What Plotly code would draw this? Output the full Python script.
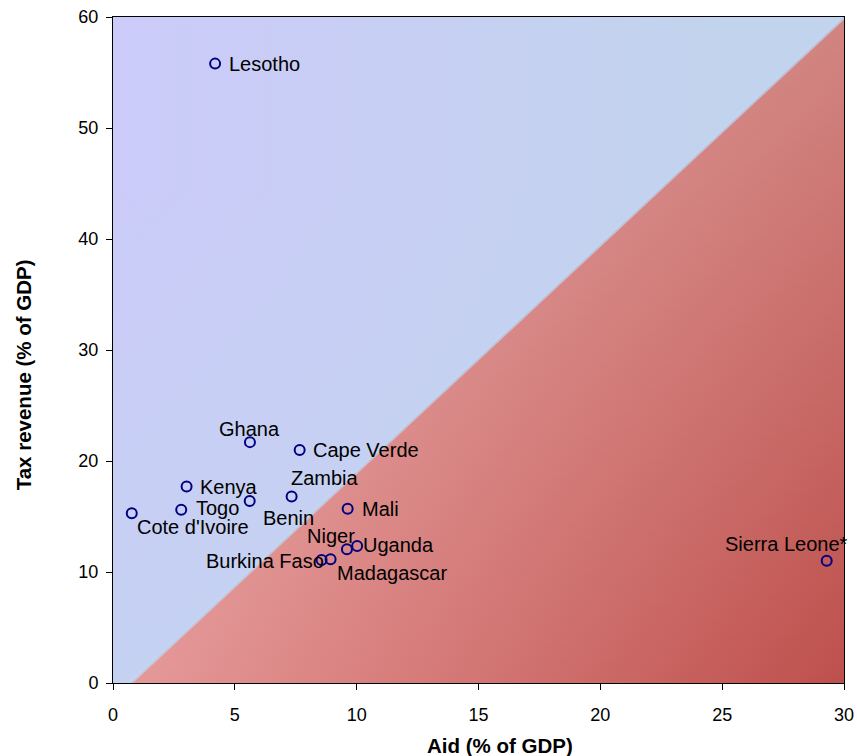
import plotly.graph_objects as go

# data
countries = ["Lesotho", "Ghana", "Cape Verde", "Kenya", "Zambia", "Benin", "Togo",
             "Cote d'Ivoire", "Mali", "Niger", "Uganda", "Burkina Faso",
             "Madagascar", "Sierra Leone*"]
aid = [4.19, 5.62, 7.66, 3.02, 7.33, 5.61, 2.80, 0.77, 9.63, 9.60, 10.02, 8.56, 8.93, 29.29]
tax = [55.8, 21.7, 21.0, 17.7, 16.8, 16.4, 15.6, 15.3, 15.7, 12.05, 12.35, 11.08, 11.14, 11.02]

x_ticks = [0, 5, 10, 15, 20, 25, 30]
y_ticks = [0, 10, 20, 30, 40, 50, 60]

x_title = "Aid (% of GDP)"
y_title = "Tax revenue (% of GDP)"

# background split: tax revenue above / below the aid line
split_x = [0.7, 30]
split_y = [0, 60]

FONT = "Liberation Sans, Arial, sans-serif"

# label placement: (xanchor, xshift, yshift) in pixels
label_pos = {
    "Lesotho": ("left", 12, 0),
    "Ghana": ("center", 0, 13),
    "Cape Verde": ("left", 11, 0),
    "Kenya": ("left", 11, 0),
    "Zambia": ("left", -3, 19),
    "Benin": ("left", 11, -17),
    "Togo": ("left", 13, 2),
    "Cote d'Ivoire": ("left", 3, -14),
    "Mali": ("left", 12, 0),
    "Niger": ("right", 10, 13),
    "Uganda": ("left", 4, 1),
    "Burkina Faso": ("right", 4, -1),
    "Madagascar": ("left", 4, -14),
    "Sierra Leone*": ("right", 23, 17),
}

fig = go.Figure()

x0, x1 = x_ticks[0], x_ticks[-1]
y0, y1 = y_ticks[0], y_ticks[-1]

# upper-left (blue) region
blue_x = [x0, split_x[0], split_x[1], x0, x0]
blue_y = [y0, split_y[0], split_y[1], y1, y0]
fig.add_trace(go.Scatter(
    x=blue_x, y=blue_y, mode="none", fill="toself", hoverinfo="skip", showlegend=False,
    fillgradient=dict(type="horizontal", start=0, stop=25,
                      colorscale=[[0, "rgb(203,203,249)"], [1, "rgb(194,211,237)"]])
))
fig.add_trace(go.Scatter(
    x=blue_x, y=blue_y, mode="none", fill="toself", hoverinfo="skip", showlegend=False,
    fillgradient=dict(type="vertical", start=0, stop=45,
                      colorscale=[[0, "rgba(194,213,238,0.65)"], [1, "rgba(194,213,238,0)"]])
))

# lower-right (red) region
red_x = [split_x[0], x1, split_x[1], split_x[0]]
red_y = [split_y[0], y0, split_y[1], split_y[0]]
fig.add_trace(go.Scatter(
    x=red_x, y=red_y, mode="none", fill="toself", hoverinfo="skip", showlegend=False,
    fillgradient=dict(type="horizontal", start=1, stop=30,
                      colorscale=[[0, "rgb(229,152,152)"], [1, "rgb(190,80,76)"]])
))
fig.add_trace(go.Scatter(
    x=red_x, y=red_y, mode="none", fill="toself", hoverinfo="skip", showlegend=False,
    fillgradient=dict(type="vertical", start=0, stop=60,
                      colorscale=[[0, "rgba(255,255,255,0)"], [1, "rgba(255,255,255,0.3)"]])
))

# soft edge along the split
fig.add_trace(go.Scatter(
    x=split_x, y=split_y, mode="lines", hoverinfo="skip", showlegend=False,
    line=dict(color="rgba(190,216,246,0.7)", width=4)
))

fig.add_trace(go.Scatter(
    x=aid, y=tax, mode="markers", text=countries, showlegend=False,
    marker=dict(symbol="circle-open", size=10, color="#000080", line=dict(width=2, color="#000080")),
    cliponaxis=False
))

for name, xv, yv in zip(countries, aid, tax):
    anchor, dx, dy = label_pos[name]
    fig.add_annotation(
        x=xv, y=yv, text=name, showarrow=False,
        xanchor=anchor, yanchor="middle", xshift=dx, yshift=dy,
        font=dict(family=FONT, size=20, color="black")
    )

# axis titles sit a little off-centre in the original, so place them by hand
title_font = dict(family=FONT, size=20.5, color="black")
fig.add_annotation(text="<b>" + x_title + "</b>", xref="paper", yref="paper",
                   x=0.53, y=0, xanchor="center", yanchor="middle", yshift=-62,
                   showarrow=False, font=title_font)
fig.add_annotation(text="<b>" + y_title + "</b>", xref="paper", yref="paper",
                   x=0, y=0.462, xanchor="center", yanchor="middle", xshift=-90,
                   textangle=-90, showarrow=False, font=title_font)

axis_style = dict(
    showline=True, linecolor="black", linewidth=1, mirror=True,
    ticks="outside", ticklen=6, tickcolor="black", tickwidth=1,
    showgrid=False, zeroline=False, automargin=False, ticklabeloverflow="allow",
    tickfont=dict(family=FONT, size=18, color="black"),
)

fig.update_layout(
    width=857, height=756,
    margin=dict(l=113, r=13, t=17, b=73),
    plot_bgcolor="white", paper_bgcolor="white",
    xaxis=dict(range=[x0, x1], tickvals=x_ticks, ticklabelstandoff=9, **axis_style),
    yaxis=dict(range=[y0, y1], tickvals=y_ticks, ticklabelstandoff=4, **axis_style),
)

# drop the default body margin so the figure fills the window exactly
fig.write_html("out.html", config={"displayModeBar": False},
               post_script="document.body.style.margin='0';")
